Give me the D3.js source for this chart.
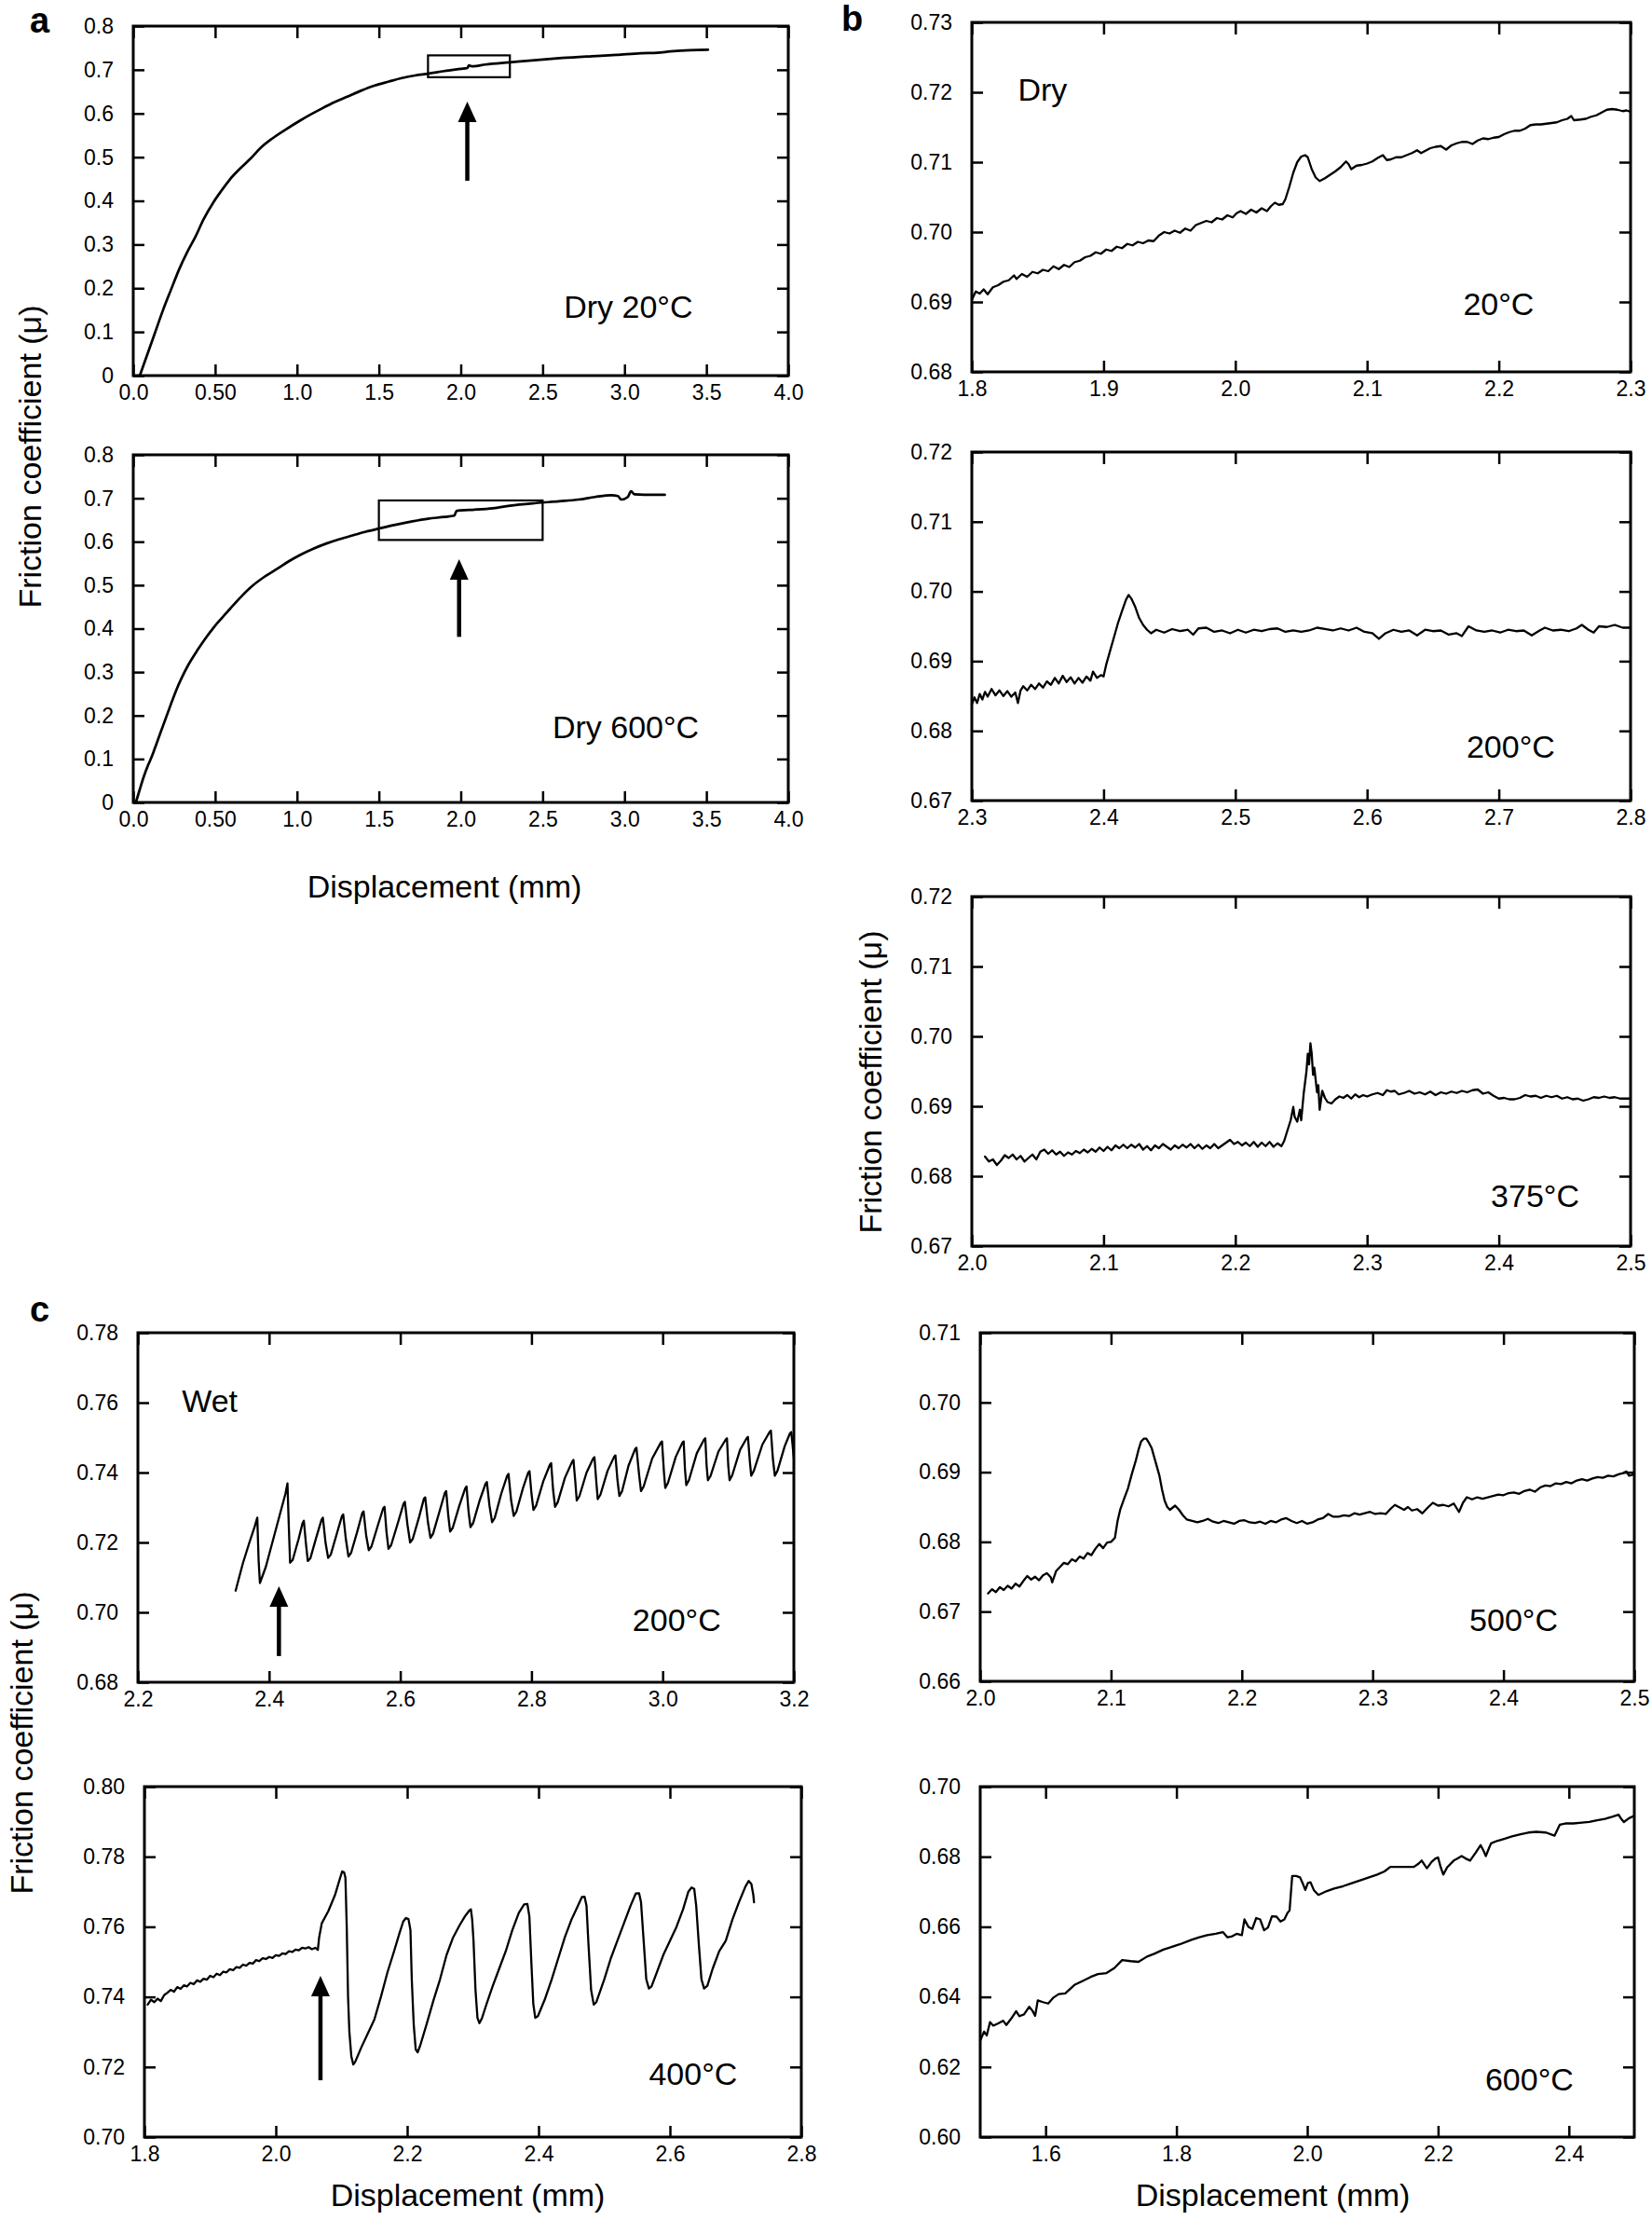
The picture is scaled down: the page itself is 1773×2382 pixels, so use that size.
<!DOCTYPE html>
<html><head><meta charset="utf-8">
<script src="https://cdn.jsdelivr.net/npm/d3@7"></script>
<style>
body{margin:0;background:#fff;}
svg text{font-family:"Liberation Sans",Arial,Helvetica,sans-serif;fill:#000;}
</style></head><body>
<svg id="fig" width="1773" height="2382"></svg>
<script>
// ---------------- tick values & labels ----------------
const aXTicks = [0,0.5,1,1.5,2,2.5,3,3.5,4];
const aXLabels = ["0.0","0.50","1.0","1.5","2.0","2.5","3.0","3.5","4.0"];
const aYTicks = [0,0.1,0.2,0.3,0.4,0.5,0.6,0.7,0.8];
const aYLabels = ["0","0.1","0.2","0.3","0.4","0.5","0.6","0.7","0.8"];
const b1XTicks = [1.8,1.9,2.0,2.1,2.2,2.3];
const b1XLabels = ["1.8","1.9","2.0","2.1","2.2","2.3"];
const b1YTicks = [0.68,0.69,0.70,0.71,0.72,0.73];
const b1YLabels = ["0.68","0.69","0.70","0.71","0.72","0.73"];
const b2XTicks = [2.3,2.4,2.5,2.6,2.7,2.8];
const b2XLabels = ["2.3","2.4","2.5","2.6","2.7","2.8"];
const b2YTicks = [0.67,0.68,0.69,0.70,0.71,0.72];
const b2YLabels = ["0.67","0.68","0.69","0.70","0.71","0.72"];
const b3XTicks = [2.0,2.1,2.2,2.3,2.4,2.5];
const b3XLabels = ["2.0","2.1","2.2","2.3","2.4","2.5"];
const c1XTicks = [2.2,2.4,2.6,2.8,3.0,3.2];
const c1XLabels = ["2.2","2.4","2.6","2.8","3.0","3.2"];
const c1YTicks = [0.68,0.70,0.72,0.74,0.76,0.78];
const c1YLabels = ["0.68","0.70","0.72","0.74","0.76","0.78"];
const c2XTicks = [1.8,2.0,2.2,2.4,2.6,2.8];
const c2XLabels = ["1.8","2.0","2.2","2.4","2.6","2.8"];
const c2YTicks = [0.70,0.72,0.74,0.76,0.78,0.80];
const c2YLabels = ["0.70","0.72","0.74","0.76","0.78","0.80"];
const c3XTicks = [2.0,2.1,2.2,2.3,2.4,2.5];
const c3XLabels = ["2.0","2.1","2.2","2.3","2.4","2.5"];
const c3YTicks = [0.66,0.67,0.68,0.69,0.70,0.71];
const c3YLabels = ["0.66","0.67","0.68","0.69","0.70","0.71"];
const c4XTicks = [1.6,1.8,2.0,2.2,2.4];
const c4XLabels = ["1.6","1.8","2.0","2.2","2.4"];
const c4YTicks = [0.60,0.62,0.64,0.66,0.68,0.70];
const c4YLabels = ["0.60","0.62","0.64","0.66","0.68","0.70"];

// ---------------- series: [displacement mm, friction coefficient] ----------------
const dry20Full = [[0.04,0],[0.08,0.042],[0.13,0.095],[0.18,0.148],[0.23,0.196],[0.28,0.243],[0.33,0.283],[0.38,0.318],[0.43,0.358],[0.49,0.397],[0.54,0.424],[0.59,0.449],[0.65,0.473],[0.72,0.498],[0.78,0.522],[0.85,0.543],[0.93,0.563],[1.02,0.584],[1.08,0.597],[1.15,0.611],[1.23,0.626],[1.31,0.639],[1.39,0.652],[1.475,0.664],[1.56,0.673],[1.64,0.681],[1.72,0.687],[1.80,0.691],[1.9,0.697],[2.0,0.702],[2.04,0.704],[2.05,0.710],[2.07,0.708],[2.15,0.712],[2.3,0.717],[2.45,0.722],[2.62,0.727],[2.8,0.731],[2.95,0.734],[3.1,0.738],[3.2,0.739],[3.28,0.742],[3.4,0.745],[3.51,0.746]];
const dry600Full = [[0.016,0],[0.04,0.03],[0.066,0.061],[0.09,0.085],[0.115,0.107],[0.14,0.133],[0.164,0.158],[0.2,0.195],[0.23,0.226],[0.26,0.256],[0.295,0.286],[0.34,0.319],[0.393,0.351],[0.44,0.377],[0.49,0.402],[0.54,0.424],[0.59,0.445],[0.65,0.470],[0.72,0.496],[0.8,0.519],[0.885,0.539],[0.95,0.555],[1.016,0.569],[1.1,0.584],[1.18,0.596],[1.26,0.606],[1.344,0.615],[1.42,0.623],[1.508,0.631],[1.6,0.639],[1.705,0.647],[1.8,0.653],[1.9,0.657],[1.96,0.660],[1.975,0.671],[2.05,0.673],[2.197,0.677],[2.3,0.683],[2.46,0.689],[2.6,0.693],[2.72,0.697],[2.82,0.703],[2.92,0.707],[2.96,0.705],[2.98,0.697],[3.02,0.703],[3.04,0.716],[3.06,0.709],[3.12,0.708],[3.246,0.708]];
const dry20Zoom = [[1.800,0.6903],[1.803,0.6915],[1.806,0.6912],[1.809,0.6918],[1.812,0.6911],[1.816,0.6921],[1.820,0.6924],[1.824,0.6929],[1.828,0.6931],[1.832,0.6938],[1.834,0.6933],[1.838,0.6940],[1.842,0.6936],[1.846,0.6943],[1.850,0.6941],[1.854,0.6946],[1.858,0.6944],[1.862,0.6951],[1.866,0.6947],[1.870,0.6953],[1.874,0.6950],[1.878,0.6957],[1.882,0.6959],[1.886,0.6964],[1.890,0.6966],[1.894,0.6971],[1.898,0.6969],[1.902,0.6975],[1.906,0.6973],[1.910,0.6979],[1.914,0.6977],[1.918,0.6983],[1.922,0.6981],[1.926,0.6986],[1.930,0.6984],[1.934,0.6988],[1.938,0.6987],[1.942,0.6995],[1.946,0.7000],[1.950,0.6998],[1.954,0.7002],[1.958,0.6999],[1.962,0.7005],[1.966,0.7002],[1.970,0.7010],[1.974,0.7013],[1.978,0.7016],[1.982,0.7014],[1.986,0.7020],[1.990,0.7018],[1.994,0.7024],[1.998,0.7021],[2.001,0.7027],[2.004,0.7030],[2.008,0.7026],[2.012,0.7032],[2.016,0.7028],[2.020,0.7034],[2.024,0.7030],[2.027,0.7037],[2.030,0.7042],[2.033,0.7039],[2.036,0.7040],[2.038,0.7047],[2.041,0.7065],[2.044,0.7085],[2.047,0.7100],[2.050,0.7108],[2.053,0.7110],[2.055,0.7107],[2.058,0.7090],[2.061,0.7078],[2.064,0.7073],[2.068,0.7077],[2.072,0.7082],[2.076,0.7087],[2.080,0.7093],[2.084,0.7101],[2.086,0.7097],[2.088,0.7090],[2.092,0.7095],[2.096,0.7096],[2.100,0.7098],[2.104,0.7101],[2.108,0.7106],[2.112,0.7110],[2.115,0.7103],[2.118,0.7104],[2.122,0.7107],[2.126,0.7107],[2.130,0.7110],[2.134,0.7113],[2.138,0.7117],[2.141,0.7113],[2.144,0.7116],[2.148,0.7120],[2.152,0.7122],[2.156,0.7123],[2.160,0.7118],[2.164,0.7124],[2.168,0.7127],[2.172,0.7129],[2.176,0.7129],[2.180,0.7126],[2.184,0.7131],[2.188,0.7134],[2.192,0.7133],[2.196,0.7135],[2.200,0.7136],[2.204,0.7140],[2.208,0.7143],[2.212,0.7145],[2.216,0.7145],[2.220,0.7148],[2.224,0.7153],[2.228,0.7154],[2.232,0.7154],[2.236,0.7155],[2.240,0.7156],[2.244,0.7157],[2.248,0.7160],[2.252,0.7162],[2.255,0.7166],[2.257,0.7160],[2.262,0.7161],[2.266,0.7162],[2.270,0.7165],[2.274,0.7167],[2.278,0.7171],[2.282,0.7175],[2.286,0.7176],[2.290,0.7175],[2.294,0.7173],[2.297,0.7174],[2.300,0.7172]];
const dry200Zoom = [[2.300,0.6838],[2.302,0.6848],[2.304,0.6840],[2.306,0.6853],[2.308,0.6845],[2.310,0.6856],[2.312,0.6849],[2.315,0.6860],[2.318,0.6851],[2.321,0.6858],[2.324,0.6850],[2.327,0.6857],[2.330,0.6849],[2.333,0.6855],[2.335,0.6840],[2.337,0.6858],[2.339,0.6864],[2.342,0.6858],[2.345,0.6866],[2.348,0.6860],[2.351,0.6868],[2.354,0.6862],[2.357,0.6871],[2.360,0.6866],[2.363,0.6876],[2.366,0.6868],[2.369,0.6879],[2.372,0.6870],[2.375,0.6877],[2.378,0.6868],[2.381,0.6876],[2.384,0.6869],[2.387,0.6878],[2.390,0.6872],[2.392,0.6885],[2.395,0.6876],[2.398,0.6880],[2.400,0.6878],[2.402,0.6895],[2.405,0.6915],[2.408,0.6935],[2.411,0.6955],[2.414,0.6972],[2.417,0.6988],[2.419,0.6995],[2.421,0.6990],[2.424,0.6978],[2.427,0.6962],[2.430,0.6952],[2.433,0.6945],[2.436,0.6940],[2.440,0.6945],[2.446,0.6941],[2.452,0.6946],[2.458,0.6943],[2.464,0.6945],[2.468,0.6938],[2.472,0.6947],[2.478,0.6948],[2.484,0.6942],[2.490,0.6944],[2.496,0.6940],[2.502,0.6945],[2.508,0.6941],[2.514,0.6945],[2.520,0.6943],[2.526,0.6946],[2.532,0.6947],[2.538,0.6942],[2.544,0.6944],[2.550,0.6942],[2.556,0.6944],[2.562,0.6948],[2.568,0.6946],[2.574,0.6944],[2.580,0.6947],[2.586,0.6944],[2.592,0.6948],[2.598,0.6942],[2.604,0.6940],[2.609,0.6932],[2.614,0.6940],[2.620,0.6945],[2.626,0.6942],[2.632,0.6944],[2.638,0.6937],[2.644,0.6945],[2.650,0.6943],[2.656,0.6944],[2.662,0.6938],[2.668,0.6940],[2.672,0.6936],[2.677,0.6950],[2.683,0.6944],[2.689,0.6942],[2.695,0.6944],[2.701,0.6941],[2.707,0.6945],[2.713,0.6943],[2.719,0.6944],[2.725,0.6937],[2.731,0.6944],[2.735,0.6948],[2.741,0.6944],[2.747,0.6945],[2.753,0.6943],[2.759,0.6947],[2.763,0.6952],[2.768,0.6945],[2.772,0.6941],[2.776,0.6950],[2.782,0.6949],[2.788,0.6952],[2.794,0.6948],[2.800,0.6948]];
const dry375Zoom = [[2.010,0.6828],[2.013,0.6821],[2.016,0.6824],[2.019,0.6816],[2.022,0.6822],[2.025,0.6830],[2.028,0.6826],[2.031,0.6831],[2.034,0.6824],[2.037,0.6829],[2.040,0.6821],[2.043,0.6826],[2.046,0.6831],[2.049,0.6824],[2.052,0.6835],[2.055,0.6838],[2.058,0.6832],[2.061,0.6837],[2.064,0.6831],[2.067,0.6835],[2.070,0.6829],[2.073,0.6834],[2.076,0.6831],[2.079,0.6836],[2.082,0.6833],[2.085,0.6838],[2.088,0.6834],[2.091,0.6839],[2.094,0.6835],[2.097,0.6841],[2.100,0.6836],[2.103,0.6842],[2.106,0.6837],[2.109,0.6844],[2.112,0.6840],[2.115,0.6845],[2.118,0.6840],[2.121,0.6845],[2.124,0.6841],[2.127,0.6846],[2.130,0.6838],[2.133,0.6843],[2.136,0.6837],[2.139,0.6844],[2.142,0.6840],[2.145,0.6846],[2.148,0.6842],[2.151,0.6838],[2.154,0.6844],[2.157,0.6840],[2.160,0.6845],[2.163,0.6841],[2.166,0.6846],[2.169,0.6840],[2.172,0.6845],[2.175,0.6839],[2.178,0.6844],[2.181,0.6840],[2.184,0.6846],[2.187,0.6840],[2.190,0.6844],[2.193,0.6848],[2.196,0.6852],[2.199,0.6846],[2.202,0.6849],[2.205,0.6844],[2.208,0.6848],[2.211,0.6843],[2.214,0.6849],[2.217,0.6842],[2.220,0.6848],[2.223,0.6843],[2.226,0.6849],[2.229,0.6842],[2.232,0.6847],[2.235,0.6843],[2.237,0.6850],[2.240,0.6868],[2.242,0.6880],[2.244,0.6899],[2.245,0.6885],[2.247,0.6878],[2.249,0.6895],[2.250,0.6880],[2.252,0.6920],[2.254,0.6950],[2.255,0.6975],[2.256,0.6960],[2.257,0.6990],[2.258,0.6975],[2.259,0.6945],[2.260,0.6955],[2.262,0.6920],[2.263,0.6930],[2.264,0.6895],[2.266,0.6922],[2.268,0.6912],[2.270,0.6906],[2.273,0.6904],[2.276,0.6910],[2.279,0.6914],[2.282,0.6912],[2.285,0.6916],[2.288,0.6911],[2.291,0.6917],[2.294,0.6913],[2.297,0.6916],[2.300,0.6914],[2.304,0.6917],[2.308,0.6919],[2.312,0.6916],[2.315,0.6923],[2.318,0.6921],[2.321,0.6922],[2.324,0.6917],[2.328,0.6919],[2.332,0.6922],[2.336,0.6918],[2.340,0.6920],[2.344,0.6917],[2.348,0.6921],[2.352,0.6916],[2.356,0.6920],[2.360,0.6918],[2.364,0.6921],[2.368,0.6919],[2.372,0.6922],[2.376,0.6920],[2.380,0.6923],[2.384,0.6924],[2.388,0.6918],[2.392,0.6920],[2.396,0.6915],[2.400,0.6911],[2.404,0.6912],[2.408,0.6910],[2.412,0.6910],[2.416,0.6912],[2.420,0.6916],[2.424,0.6914],[2.428,0.6915],[2.432,0.6912],[2.436,0.6915],[2.440,0.6913],[2.444,0.6915],[2.448,0.6911],[2.452,0.6913],[2.456,0.6910],[2.460,0.6911],[2.464,0.6908],[2.468,0.6910],[2.472,0.6913],[2.476,0.6912],[2.480,0.6914],[2.484,0.6912],[2.488,0.6913],[2.492,0.6911],[2.496,0.6911],[2.500,0.6911]];
const wet200 = [[2.349,0.7062],[2.360,0.7140],[2.370,0.7200],[2.378,0.7245],[2.382,0.7271],[2.384,0.7150],[2.386,0.7084],[2.395,0.7130],[2.405,0.7200],[2.415,0.7270],[2.425,0.7340],[2.428,0.7369],[2.430,0.7250],[2.432,0.7142],[2.436,0.7150],[2.445,0.7210],[2.451,0.7255],[2.453,0.7262],[2.456,0.7200],[2.459,0.7147],[2.463,0.7155],[2.472,0.7215],[2.480,0.7265],[2.482,0.7271],[2.486,0.7200],[2.490,0.7156],[2.494,0.7165],[2.504,0.7230],[2.511,0.7275],[2.513,0.7280],[2.517,0.7210],[2.521,0.7160],[2.525,0.7170],[2.535,0.7235],[2.542,0.7284],[2.544,0.7289],[2.548,0.7220],[2.552,0.7178],[2.556,0.7188],[2.566,0.7250],[2.574,0.7298],[2.576,0.7302],[2.579,0.7230],[2.582,0.7182],[2.586,0.7192],[2.597,0.7260],[2.605,0.7311],[2.607,0.7316],[2.611,0.7250],[2.615,0.7200],[2.619,0.7210],[2.629,0.7275],[2.636,0.7325],[2.638,0.7329],[2.642,0.7260],[2.646,0.7213],[2.650,0.7225],[2.660,0.7290],[2.668,0.7342],[2.670,0.7347],[2.673,0.7280],[2.676,0.7231],[2.680,0.7242],[2.690,0.7305],[2.699,0.7355],[2.701,0.7360],[2.704,0.7290],[2.707,0.7244],[2.711,0.7255],[2.721,0.7320],[2.730,0.7368],[2.732,0.7373],[2.736,0.7305],[2.740,0.7258],[2.744,0.7270],[2.754,0.7340],[2.763,0.7391],[2.765,0.7396],[2.769,0.7320],[2.773,0.7276],[2.777,0.7288],[2.787,0.7355],[2.795,0.7400],[2.797,0.7404],[2.800,0.7340],[2.803,0.7293],[2.807,0.7305],[2.818,0.7375],[2.828,0.7422],[2.830,0.7427],[2.833,0.7350],[2.836,0.7302],[2.840,0.7315],[2.851,0.7385],[2.862,0.7431],[2.864,0.7436],[2.867,0.7370],[2.869,0.7320],[2.873,0.7332],[2.884,0.7400],[2.894,0.7440],[2.896,0.7444],[2.899,0.7370],[2.901,0.7324],[2.905,0.7336],[2.916,0.7405],[2.926,0.7445],[2.928,0.7449],[2.931,0.7380],[2.934,0.7333],[2.938,0.7346],[2.948,0.7420],[2.958,0.7467],[2.960,0.7471],[2.964,0.7395],[2.967,0.7347],[2.971,0.7360],[2.984,0.7440],[2.997,0.7485],[2.999,0.7489],[3.002,0.7400],[3.004,0.7356],[3.008,0.7370],[3.020,0.7445],[3.030,0.7485],[3.032,0.7489],[3.034,0.7410],[3.036,0.7364],[3.040,0.7378],[3.052,0.7455],[3.063,0.7494],[3.065,0.7498],[3.067,0.7420],[3.069,0.7378],[3.073,0.7390],[3.085,0.7460],[3.096,0.7494],[3.098,0.7498],[3.100,0.7420],[3.102,0.7378],[3.106,0.7392],[3.118,0.7465],[3.128,0.7498],[3.130,0.7502],[3.133,0.7430],[3.135,0.7391],[3.139,0.7405],[3.152,0.7480],[3.163,0.7516],[3.165,0.7520],[3.168,0.7440],[3.171,0.7391],[3.175,0.7405],[3.186,0.7475],[3.194,0.7512],[3.196,0.7516],[3.198,0.7480],[3.200,0.7440]];
const wet400 = [[1.805,0.7378],[1.810,0.7392],[1.815,0.7385],[1.820,0.7395],[1.825,0.7388],[1.830,0.7405],[1.835,0.7412],[1.840,0.7420],[1.845,0.7415],[1.850,0.7428],[1.855,0.7423],[1.860,0.7433],[1.865,0.7430],[1.870,0.7440],[1.875,0.7436],[1.880,0.7447],[1.885,0.7443],[1.890,0.7452],[1.895,0.7449],[1.900,0.7460],[1.905,0.7456],[1.910,0.7466],[1.915,0.7462],[1.920,0.7472],[1.925,0.7470],[1.930,0.7479],[1.935,0.7476],[1.940,0.7485],[1.945,0.7483],[1.950,0.7492],[1.955,0.7489],[1.960,0.7497],[1.965,0.7495],[1.970,0.7505],[1.975,0.7502],[1.980,0.7510],[1.985,0.7508],[1.990,0.7514],[1.995,0.7511],[2.000,0.7519],[2.005,0.7517],[2.010,0.7524],[2.015,0.7522],[2.020,0.7530],[2.025,0.7528],[2.030,0.7535],[2.035,0.7533],[2.040,0.7540],[2.045,0.7538],[2.050,0.7542],[2.055,0.7536],[2.060,0.7540],[2.064,0.7534],[2.066,0.7570],[2.070,0.7610],[2.080,0.7645],[2.090,0.7690],[2.098,0.7740],[2.101,0.7758],[2.104,0.7755],[2.106,0.7740],[2.108,0.7600],[2.110,0.7400],[2.112,0.7300],[2.115,0.7230],[2.118,0.7207],[2.121,0.7215],[2.130,0.7255],[2.140,0.7295],[2.150,0.7335],[2.160,0.7400],[2.170,0.7470],[2.180,0.7530],[2.188,0.7580],[2.194,0.7615],[2.198,0.7625],[2.202,0.7622],[2.205,0.7590],[2.207,0.7450],[2.210,0.7320],[2.213,0.7250],[2.216,0.7242],[2.220,0.7262],[2.230,0.7325],[2.240,0.7390],[2.250,0.7450],[2.260,0.7520],[2.270,0.7570],[2.280,0.7605],[2.288,0.7630],[2.294,0.7645],[2.297,0.7650],[2.299,0.7620],[2.301,0.7560],[2.304,0.7420],[2.307,0.7340],[2.310,0.7325],[2.314,0.7340],[2.320,0.7375],[2.330,0.7430],[2.340,0.7480],[2.350,0.7530],[2.360,0.7590],[2.370,0.7640],[2.378,0.7664],[2.383,0.7665],[2.386,0.7630],[2.389,0.7500],[2.392,0.7380],[2.395,0.7340],[2.399,0.7345],[2.410,0.7395],[2.420,0.7450],[2.430,0.7510],[2.440,0.7570],[2.450,0.7620],[2.460,0.7660],[2.466,0.7685],[2.470,0.7686],[2.473,0.7660],[2.476,0.7550],[2.480,0.7420],[2.484,0.7378],[2.488,0.7385],[2.500,0.7450],[2.510,0.7510],[2.520,0.7560],[2.530,0.7610],[2.540,0.7660],[2.548,0.7695],[2.553,0.7696],[2.556,0.7670],[2.560,0.7560],[2.564,0.7450],[2.568,0.7424],[2.572,0.7430],[2.580,0.7470],[2.590,0.7520],[2.600,0.7560],[2.610,0.7600],[2.620,0.7650],[2.628,0.7700],[2.633,0.7712],[2.637,0.7708],[2.640,0.7660],[2.644,0.7550],[2.648,0.7450],[2.652,0.7424],[2.657,0.7432],[2.665,0.7480],[2.675,0.7530],[2.685,0.7560],[2.695,0.7620],[2.705,0.7670],[2.715,0.7715],[2.720,0.7731],[2.724,0.7722],[2.727,0.7690],[2.728,0.7670]];
const wet500 = [[2.006,0.6726],[2.009,0.6732],[2.012,0.6728],[2.015,0.6735],[2.018,0.6731],[2.021,0.6737],[2.024,0.6733],[2.027,0.6740],[2.030,0.6736],[2.033,0.6744],[2.036,0.6751],[2.039,0.6746],[2.042,0.6750],[2.045,0.6745],[2.048,0.6752],[2.051,0.6755],[2.054,0.6749],[2.055,0.6742],[2.058,0.6758],[2.061,0.6764],[2.064,0.6770],[2.067,0.6768],[2.070,0.6775],[2.073,0.6772],[2.076,0.6779],[2.079,0.6776],[2.082,0.6784],[2.085,0.6781],[2.088,0.6790],[2.091,0.6797],[2.094,0.6791],[2.097,0.6799],[2.100,0.6800],[2.103,0.6806],[2.105,0.6830],[2.107,0.6846],[2.110,0.6862],[2.113,0.6877],[2.116,0.6898],[2.119,0.6917],[2.121,0.6932],[2.123,0.6944],[2.125,0.6948],[2.127,0.6948],[2.129,0.6942],[2.131,0.6935],[2.134,0.6915],[2.137,0.6895],[2.139,0.6875],[2.141,0.6859],[2.143,0.6850],[2.145,0.6846],[2.147,0.6849],[2.149,0.6852],[2.152,0.6846],[2.155,0.6838],[2.158,0.6832],[2.162,0.6830],[2.166,0.6828],[2.170,0.6830],[2.174,0.6833],[2.178,0.6829],[2.182,0.6827],[2.186,0.6830],[2.190,0.6828],[2.194,0.6826],[2.198,0.6830],[2.202,0.6831],[2.206,0.6828],[2.210,0.6827],[2.214,0.6829],[2.218,0.6826],[2.222,0.6830],[2.226,0.6828],[2.230,0.6832],[2.234,0.6834],[2.238,0.6830],[2.242,0.6827],[2.246,0.6830],[2.250,0.6826],[2.254,0.6828],[2.258,0.6832],[2.262,0.6834],[2.266,0.6840],[2.270,0.6836],[2.274,0.6836],[2.278,0.6838],[2.282,0.6837],[2.286,0.6841],[2.290,0.6839],[2.294,0.6841],[2.298,0.6843],[2.302,0.6840],[2.306,0.6841],[2.310,0.6840],[2.314,0.6848],[2.317,0.6853],[2.320,0.6850],[2.324,0.6846],[2.327,0.6850],[2.330,0.6845],[2.334,0.6847],[2.338,0.6841],[2.342,0.6849],[2.346,0.6856],[2.350,0.6852],[2.354,0.6853],[2.358,0.6851],[2.362,0.6855],[2.366,0.6843],[2.369,0.6856],[2.372,0.6864],[2.376,0.6861],[2.380,0.6864],[2.384,0.6862],[2.388,0.6864],[2.392,0.6866],[2.396,0.6868],[2.400,0.6867],[2.404,0.6870],[2.408,0.6871],[2.412,0.6869],[2.416,0.6873],[2.420,0.6875],[2.424,0.6872],[2.428,0.6878],[2.432,0.6881],[2.436,0.6880],[2.440,0.6884],[2.444,0.6883],[2.448,0.6886],[2.452,0.6884],[2.456,0.6888],[2.460,0.6890],[2.464,0.6888],[2.468,0.6891],[2.472,0.6893],[2.476,0.6892],[2.480,0.6895],[2.484,0.6894],[2.488,0.6897],[2.492,0.6899],[2.494,0.6901],[2.496,0.6895],[2.500,0.6897]];
const wet600 = [[1.500,0.6275],[1.506,0.6301],[1.510,0.6290],[1.515,0.6328],[1.520,0.6318],[1.527,0.6324],[1.535,0.6332],[1.540,0.6320],[1.547,0.6337],[1.555,0.6359],[1.560,0.6345],[1.567,0.6350],[1.575,0.6372],[1.580,0.6360],[1.584,0.6346],[1.588,0.6390],[1.596,0.6385],[1.604,0.6381],[1.612,0.6398],[1.620,0.6408],[1.630,0.6410],[1.644,0.6434],[1.656,0.6445],[1.669,0.6457],[1.680,0.6465],[1.693,0.6468],[1.705,0.6482],[1.717,0.6505],[1.730,0.6502],[1.742,0.6500],[1.755,0.6515],[1.766,0.6523],[1.780,0.6535],[1.790,0.6541],[1.805,0.6550],[1.823,0.6563],[1.835,0.6570],[1.847,0.6576],[1.860,0.6580],[1.871,0.6585],[1.878,0.6570],[1.884,0.6572],[1.892,0.6580],[1.900,0.6576],[1.904,0.6621],[1.910,0.6600],[1.916,0.6594],[1.922,0.6625],[1.928,0.6621],[1.934,0.6590],[1.940,0.6598],[1.946,0.6630],[1.953,0.6629],[1.959,0.6615],[1.965,0.6621],[1.970,0.6640],[1.973,0.6647],[1.977,0.6745],[1.983,0.6745],[1.989,0.6741],[1.994,0.6720],[1.997,0.6705],[2.001,0.6725],[2.005,0.6727],[2.010,0.6705],[2.017,0.6691],[2.030,0.6702],[2.041,0.6709],[2.055,0.6716],[2.066,0.6723],[2.085,0.6735],[2.107,0.6749],[2.118,0.6758],[2.127,0.6771],[2.145,0.6771],[2.163,0.6771],[2.170,0.6780],[2.175,0.6789],[2.180,0.6775],[2.183,0.6767],[2.190,0.6785],[2.196,0.6795],[2.200,0.6798],[2.204,0.6770],[2.208,0.6749],[2.214,0.6770],[2.224,0.6789],[2.230,0.6795],[2.236,0.6802],[2.242,0.6795],[2.249,0.6789],[2.257,0.6810],[2.265,0.6833],[2.270,0.6815],[2.273,0.6802],[2.278,0.6825],[2.281,0.6838],[2.290,0.6845],[2.301,0.6851],[2.313,0.6858],[2.326,0.6864],[2.338,0.6869],[2.350,0.6871],[2.365,0.6869],[2.378,0.6860],[2.386,0.6891],[2.396,0.6895],[2.407,0.6895],[2.420,0.6897],[2.431,0.6899],[2.443,0.6904],[2.455,0.6908],[2.466,0.6914],[2.476,0.6920],[2.480,0.6908],[2.484,0.6899],[2.492,0.6910],[2.500,0.6917]];

// highlight boxes [x0, x1, y0, y1] and arrows [x, tail, tip] in data units
const boxA1 = [1.8, 2.3, 0.683, 0.733];
const boxA2 = [1.5, 2.5, 0.604, 0.695];
const arrowA1 = [2.04, 0.446, 0.627];
const arrowA2 = [1.99, 0.381, 0.560];
const arrowC1 = [2.415, 0.6875, 0.7075];
const arrowC2 = [2.068, 0.7162, 0.746];

// ---------------- drawing ----------------
const svg = d3.select("#fig");
svg.append("rect").attr("width",1773).attr("height",2382).attr("fill","#fff");

const panels = [
 {box:[143,846,28,403], xd:[0,4], yd:[0,0.8], xt:aXTicks, xl:aXLabels, yt:aYTicks, yl:aYLabels, data:dry20Full, smooth:true, lw:2.7,
  notes:[{t:"Dry 20°C", x:2.63, y:0.132}], box2:boxA1, arrow:arrowA1},
 {box:[143,846,488,861], xd:[0,4], yd:[0,0.8], xt:aXTicks, xl:aXLabels, yt:aYTicks, yl:aYLabels, data:dry600Full, smooth:true, lw:2.7,
  notes:[{t:"Dry 600°C", x:2.56, y:0.148}], box2:boxA2, arrow:arrowA2},
 {box:[1043,1750,24,399], xd:[1.8,2.3], yd:[0.68,0.73], xt:b1XTicks, xl:b1XLabels, yt:b1YTicks, yl:b1YLabels, data:dry20Zoom, lw:2.3,
  notes:[{t:"Dry", x:1.835, y:0.7188},{t:"20°C", x:2.173, y:0.6881}]},
 {box:[1043,1750,485,859], xd:[2.3,2.8], yd:[0.67,0.72], xt:b2XTicks, xl:b2XLabels, yt:b2YTicks, yl:b2YLabels, data:dry200Zoom, lw:2.3,
  notes:[{t:"200°C", x:2.6755, y:0.6762}]},
 {box:[1043,1750,962,1337], xd:[2.0,2.5], yd:[0.67,0.72], xt:b3XTicks, xl:b3XLabels, yt:b2YTicks, yl:b2YLabels, data:dry375Zoom, lw:2.3,
  notes:[{t:"375°C", x:2.394, y:0.6756}]},
 {box:[148,852,1430,1805], xd:[2.2,3.2], yd:[0.68,0.78], xt:c1XTicks, xl:c1XLabels, yt:c1YTicks, yl:c1YLabels, data:wet200, lw:2.3,
  notes:[{t:"Wet", x:2.267, y:0.7573},{t:"200°C", x:2.954, y:0.6947}], arrow:arrowC1},
 {box:[155,860,1917,2293], xd:[1.8,2.8], yd:[0.70,0.80], xt:c2XTicks, xl:c2XLabels, yt:c2YTicks, yl:c2YLabels, data:wet400, lw:2.3,
  notes:[{t:"400°C", x:2.568, y:0.7149}], arrow:arrowC2},
 {box:[1052,1754,1430,1804], xd:[2.0,2.5], yd:[0.66,0.71], xt:c3XTicks, xl:c3XLabels, yt:c3YTicks, yl:c3YLabels, data:wet500, lw:2.3,
  notes:[{t:"500°C", x:2.374, y:0.6672}]},
 {box:[1052,1754,1917,2293], xd:[1.5,2.5], yd:[0.60,0.70], xt:c4XTicks, xl:c4XLabels, yt:c4YTicks, yl:c4YLabels, data:wet600, lw:2.3,
  notes:[{t:"600°C", x:2.272, y:0.6133}]}
];

const FONT = '"Liberation Sans",Arial,Helvetica,sans-serif';
const TICKFS = 23;

function styleAxis(sel){
  sel.select(".domain").remove();
  sel.selectAll(".tick line").attr("stroke","#000").attr("stroke-width",2.5);
  sel.attr("font-family",FONT).attr("font-size",TICKFS);
  sel.selectAll(".tick text").attr("fill","#000");
}

panels.forEach(p=>{
  const [L,R,T,B] = p.box;
  const x = d3.scaleLinear().domain(p.xd).range([L,R]);
  const y = d3.scaleLinear().domain(p.yd).range([B,T]);
  const g = svg.append("g");

  const line = d3.line().x(d=>x(d[0])).y(d=>y(d[1]))
      .curve(p.smooth ? d3.curveMonotoneX : d3.curveLinear);
  g.append("path").datum(p.data).attr("d",line)
    .attr("fill","none").attr("stroke","#000").attr("stroke-width",p.lw)
    .attr("stroke-linejoin","round").attr("stroke-linecap","round");

  const fx = (d,i)=>p.xl[i], fy = (d,i)=>p.yl[i];
  g.append("g").attr("transform",`translate(0,${B})`)
    .call(d3.axisBottom(x).tickValues(p.xt).tickFormat(fx).tickSizeInner(-12).tickSizeOuter(0).tickPadding(10))
    .call(styleAxis);
  g.append("g").attr("transform",`translate(${L},0)`)
    .call(d3.axisLeft(y).tickValues(p.yt).tickFormat(fy).tickSizeInner(-12).tickSizeOuter(0).tickPadding(21))
    .call(styleAxis);
  g.append("g").attr("transform",`translate(0,${T})`)
    .call(d3.axisTop(x).tickValues(p.xt).tickFormat("").tickSizeInner(-13).tickSizeOuter(0))
    .call(styleAxis);
  g.append("g").attr("transform",`translate(${R},0)`)
    .call(d3.axisRight(y).tickValues(p.yt).tickFormat("").tickSizeInner(-12).tickSizeOuter(0))
    .call(styleAxis);

  g.append("rect").attr("x",L).attr("y",T).attr("width",R-L).attr("height",B-T)
    .attr("fill","none").attr("stroke","#000").attr("stroke-width",3);

  p.notes.forEach(n=>{
    g.append("text").attr("x",x(n.x)).attr("y",y(n.y))
      .attr("font-size",34).text(n.t);
  });

  if(p.box2){
    const b = p.box2;
    g.append("rect").attr("x",x(b[0])).attr("y",y(b[3]))
      .attr("width",x(b[1])-x(b[0])).attr("height",y(b[2])-y(b[3]))
      .attr("fill","none").attr("stroke","#000").attr("stroke-width",2.2);
  }
  if(p.arrow){
    const a = p.arrow;
    const ax = x(a[0]), yTail = y(a[1]), yTip = y(a[2]);
    const hl = 22, hw = 10;
    g.append("line").attr("x1",ax).attr("x2",ax).attr("y1",yTail).attr("y2",yTip+hl-2)
      .attr("stroke","#000").attr("stroke-width",4.5);
    g.append("path").attr("d",`M${ax},${yTip} L${ax-hw},${yTip+hl} L${ax+hw},${yTip+hl} Z`)
      .attr("fill","#000");
  }
});

// axis titles and panel letters
const titles = [
  {t:"Friction coefficient (μ)", x:44, y:490, rot:true},
  {t:"Friction coefficient (μ)", x:946, y:1161, rot:true},
  {t:"Friction coefficient (μ)", x:35, y:1870, rot:true},
  {t:"Displacement (mm)", x:477, y:963},
  {t:"Displacement (mm)", x:502, y:2367},
  {t:"Displacement (mm)", x:1366, y:2367}
];
titles.forEach(d=>{
  svg.append("text").attr("font-size",34).attr("text-anchor","middle")
    .attr("transform", d.rot ? `translate(${d.x},${d.y}) rotate(-90)` : `translate(${d.x},${d.y})`)
    .text(d.t);
});
const letters = [{t:"a",x:32,y:35},{t:"b",x:903,y:33},{t:"c",x:32,y:1418}];
letters.forEach(d=>{
  svg.append("text").attr("x",d.x).attr("y",d.y).attr("font-size",38)
    .attr("font-weight","bold").text(d.t);
});
</script>
</body></html>
